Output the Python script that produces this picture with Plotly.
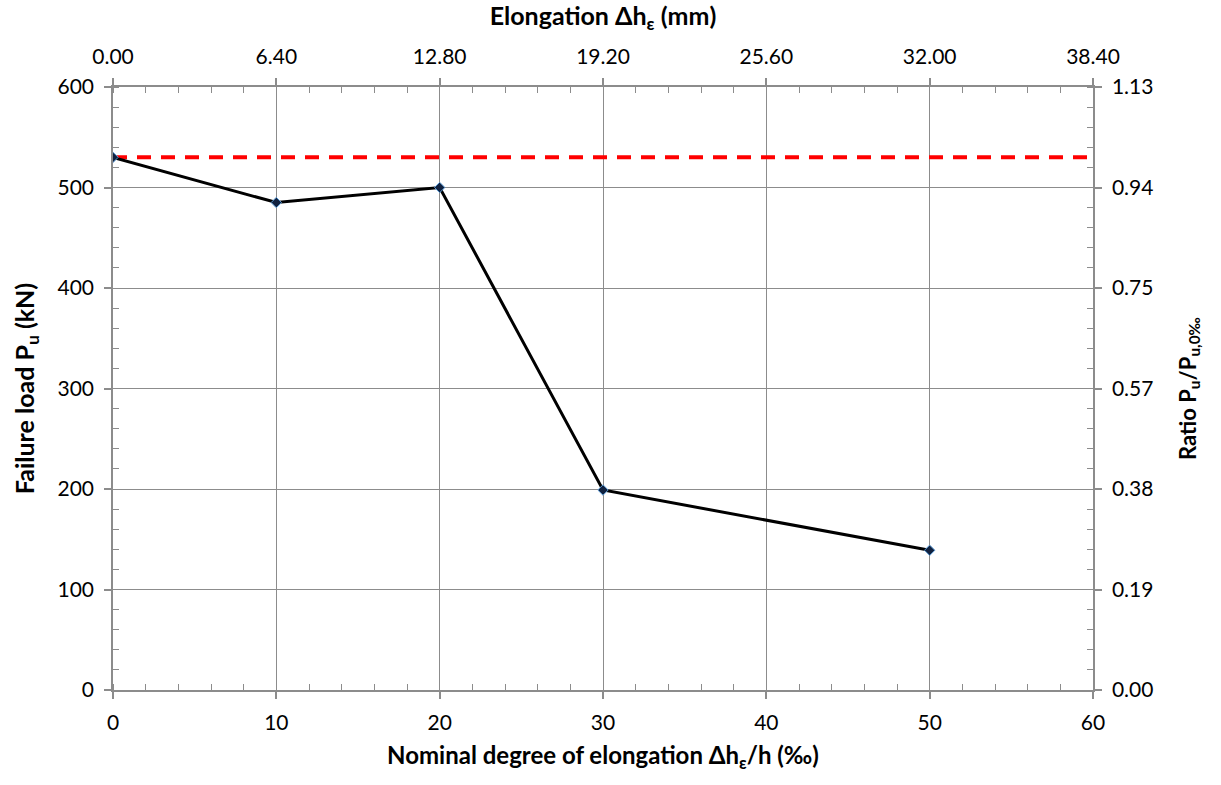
import plotly.graph_objects as go

elong_permille = [0, 10, 20, 30, 50]
failure_load = [530, 485, 500, 199, 139]
reference_load = 530
height_mm = 640
x_ticks = [0, 10, 20, 30, 40, 50, 60]
y_ticks = [0, 100, 200, 300, 400, 500, 600]

FONT = "Lato"
GRID = "#8c8c8c"
TFONT = dict(family=FONT, size=25, color="black", weight="bold")

fig = go.Figure()
fig.add_trace(go.Scatter(
    x=[0, 60], y=[reference_load, reference_load], mode="lines",
    line=dict(color="#ff0000", width=4, dash="14px,10px"), hoverinfo="skip",
    showlegend=False))
fig.add_trace(go.Scatter(
    x=elong_permille, y=failure_load, mode="lines+markers",
    line=dict(color="black", width=3),
    marker=dict(symbol="diamond", size=8, color="#10213f",
                line=dict(color="#5b9bd5", width=1)),
    showlegend=False))
# invisible trace for secondary axes
fig.add_trace(go.Scatter(x=[0, 60], y=[0, 600], xaxis="x2", yaxis="y2",
                         mode="markers", marker=dict(opacity=0), hoverinfo="skip",
                         showlegend=False))

common = dict(showline=True, linecolor=GRID, linewidth=1.5, ticks="outside",
              ticklen=7, tickcolor=GRID, tickwidth=1.5, ticklabelstandoff=6,
              tickfont=dict(family=FONT, size=21, color="black"), zeroline=False)
minor = dict(ticks="inside", ticklen=6, tickcolor=GRID, tickwidth=1)

fig.update_layout(
    width=1221, height=785,
    margin=dict(l=113, r=128, t=87, b=95),
    plot_bgcolor="white", paper_bgcolor="white",
    xaxis=dict(range=[0, 60], tickvals=x_ticks, showgrid=True, gridcolor=GRID,
               gridwidth=1, minor=dict(dtick=2, **minor),
               title=dict(text="Nominal degree of elongation Δh<sub>ε</sub>/h (‰)",
                          font=dict(family=FONT, size=24, color="black", weight="bold"),
                          standoff=14),
               **common),
    yaxis=dict(range=[0, 600], tickvals=y_ticks, showgrid=True, gridcolor=GRID,
               gridwidth=1, minor=dict(dtick=20, **minor),
               title=dict(text="Failure load P<sub>u</sub> (kN)",
                          font=TFONT, standoff=16),
               **common),
    xaxis2=dict(range=[0, 60], overlaying="x", side="top", anchor="y",
                tickvals=x_ticks, ticktext=[f"{v * height_mm / 1000:.2f}" for v in x_ticks],
                showgrid=False, minor=dict(dtick=2, **minor),
                title=dict(text="Elongation Δh<sub>ε</sub> (mm)",
                           font=TFONT, standoff=12),
                **common),
    yaxis2=dict(range=[0, 600], overlaying="y", side="right", anchor="x",
                tickvals=y_ticks, ticktext=[f"{v / reference_load:.2f}" for v in y_ticks],
                showgrid=False, minor=dict(dtick=20, **minor),
                title=dict(text="Ratio P<sub>u</sub>/P<sub>u,0‰</sub>",
                           font=dict(family=FONT, size=22, color="black", weight="bold"),
                           standoff=28),
                **common),
)

fig.write_html("out.html")
